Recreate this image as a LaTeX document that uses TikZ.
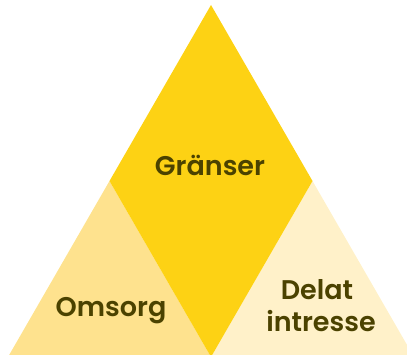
\documentclass[tikz,border=0pt]{standalone}
\usepackage{fontspec}
\setmainfont{Poppins}[BoldFont={* SemiBold}]
\definecolor{dia}{HTML}{FDD214}
\definecolor{lefttri}{HTML}{FEE28E}
\definecolor{righttri}{HTML}{FFF1C9}
\definecolor{txt}{HTML}{4B4200}
\tikzset{lbl/.style={text=txt,font=\bfseries\fontsize{27}{32}\selectfont,anchor=base,inner sep=0pt}}
\begin{document}
\begin{tikzpicture}[x=1pt,y=-1pt]
\useasboundingbox (0,0) rectangle (407,355);
\clip (0,0) rectangle (407,355);
\coordinate (A) at (211,5);
\coordinate (L) at (109.5,181);
\coordinate (R) at (312.5,181);
\coordinate (B) at (211,357);
\coordinate (BL) at (8,357);
\coordinate (BR) at (414,357);
\fill[lefttri] (L) -- (BL) -- (B) -- cycle;
\fill[righttri] (R) -- (B) -- (BR) -- cycle;
\fill[dia] (A) -- (L) -- (B) -- (R) -- cycle;
\node[lbl] (g) at (210,176) {Gränser};
\node[lbl] (o) at (111,317) {Omsorg};
\node[lbl] (d) at (317,300) {Delat};
\node[lbl] (i) at (321,332) {intresse};
\end{tikzpicture}
\end{document}
